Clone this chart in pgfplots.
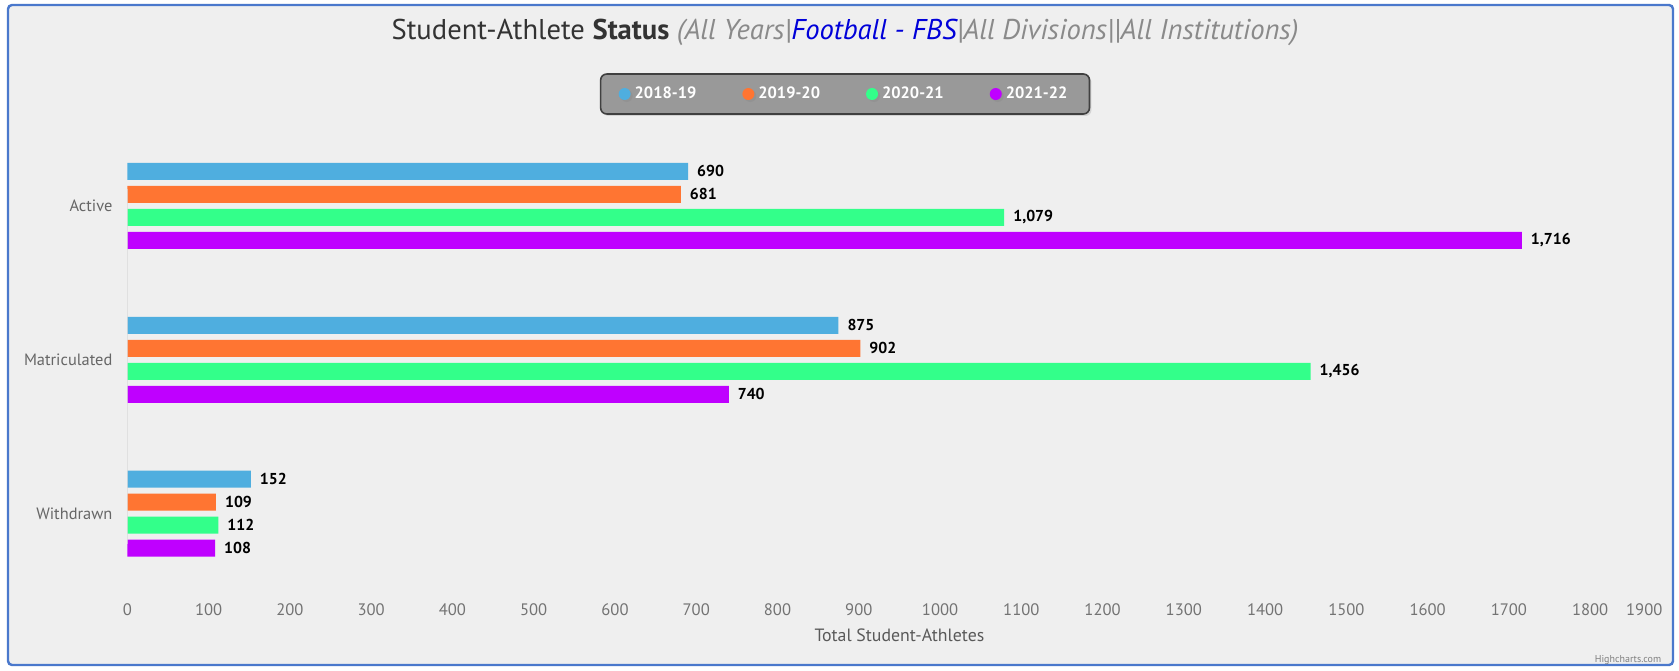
\documentclass[border=0pt]{standalone}
\usepackage{pgfplots}
\pgfplotsset{compat=1.18}
\usetikzlibrary{shadows}
\usepackage{fontspec}
\setmainfont{PT Sans}
\definecolor{cBlue}{HTML}{4FAEDF}
\definecolor{cOrange}{HTML}{FF7532}
\definecolor{cGreen}{HTML}{33FF8A}
\definecolor{cPurple}{HTML}{BF00FF}
\definecolor{bgc}{HTML}{EFEFEF}
\definecolor{frame}{HTML}{4A78CC}
\definecolor{txt}{HTML}{333333}
\definecolor{subt}{HTML}{8A8A8A}
\begin{document}
\begin{tikzpicture}
\useasboundingbox (0,0) rectangle (839.5pt,335pt);
\fill[white] (0,0) rectangle (839.5pt,335pt);
\draw[frame, line width=1.2pt, fill=bgc, rounded corners=2pt] (4pt,2.5pt) rectangle (836.5pt,332.5pt);
\node[font=\fontsize{14.3}{16}\selectfont, text=txt] at (422.5pt,319pt)
  {Student-Athlete \textbf{Status} \textcolor{subt}{\itshape (All Years|}\textcolor{blue!85!black}{\itshape Football - FBS}\textcolor{subt}{\itshape|All Divisions||All Institutions)}};
\node[font=\fontsize{5}{6}\selectfont, text=gray] at (814pt,5pt) {Highcharts.com};
\begin{axis}[
  at={(63.7pt,39.7pt)}, anchor=south west,
  scale only axis, width=772pt, height=230.8pt,
  xbar=3pt, bar width=8.5pt,
  xmin=0, xmax=1900, ymin=-0.5, ymax=2.5,
  xtick={0,100,...,1800},
  extra x ticks={1900},
  extra x tick style={xticklabel style={anchor=north east, xshift=-1pt}},
  ytick={0,1,2}, yticklabels={Withdrawn,Matriculated,Active},
  axis line style={draw=none},
  major tick length=0pt,
  /pgf/number format/assume math mode=true,
  /pgf/number format/1000 sep={},
  xticklabel style={font=\fontsize{8.3}{10}\selectfont, text=black!55, yshift=-3pt},
  yticklabel style={font=\fontsize{8.2}{10}\selectfont, text=black!60, xshift=-4pt},
  xlabel={Total Student-Athletes},
  every axis x label/.style={at={(axis description cs:0.5,0)}, anchor=center, yshift=-22.5pt,
    font=\fontsize{8.9}{10}\selectfont, text=black!65},
  nodes near coords,
  every node near coord/.append style={font=\bfseries\fontsize{7.9}{10}\selectfont, text=black, anchor=west, xshift=1pt,
    /pgf/number format/assume math mode=true, /pgf/number format/1000 sep={,}},
  legend columns=4, reverse legend,
  legend style={at={(0.4648,1.0758)}, anchor=center, fill=black!40, draw=black!75, line width=0.8pt,
    rounded corners=3pt, font=\bfseries\fontsize{8.2}{10}\selectfont, text=white,
    inner xsep=9pt, inner ysep=4.3pt, drop shadow={opacity=0.25, shadow xshift=1pt, shadow yshift=-1pt},
    /tikz/every even column/.append style={column sep=21pt}},
]
\addplot[fill=cPurple, draw=none, legend image code/.code={\fill[cPurple] (0.03cm,0cm) circle (3pt);}] coordinates {(108,0) (740,1) (1716,2)};
\addplot[fill=cGreen, draw=none, legend image code/.code={\fill[cGreen] (0.03cm,0cm) circle (3pt);}] coordinates {(112,0) (1456,1) (1079,2)};
\addplot[fill=cOrange, draw=none, legend image code/.code={\fill[cOrange] (0.03cm,0cm) circle (3pt);}] coordinates {(109,0) (902,1) (681,2)};
\addplot[fill=cBlue, draw=none, legend image code/.code={\fill[cBlue] (0.03cm,0cm) circle (3pt);}] coordinates {(152,0) (875,1) (690,2)};
\legend{2021-22,2020-21,2019-20,2018-19}
\draw[black!15] (rel axis cs:0,0.1) -- (rel axis cs:0,0.87);
\end{axis}
\end{tikzpicture}
\end{document}
